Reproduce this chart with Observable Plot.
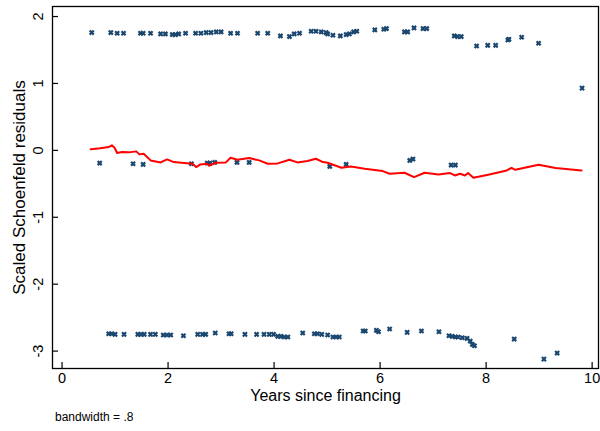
<!DOCTYPE html>
<html>
<head>
<meta charset="utf-8">
<script src="https://cdn.jsdelivr.net/npm/d3@7"></script>
<script src="https://cdn.jsdelivr.net/npm/@observablehq/plot@0.6"></script>
<style>
  html, body { margin: 0; padding: 0; background: #fff; }
  #chart { width: 600px; font-family: "Liberation Sans", Arial, Helvetica, sans-serif; }
  #caption { font-size: 12px; color: #000; margin: 2px 0 0 55px; line-height: 14px; }
</style>
</head>
<body>
<div id="chart"></div>
<script>
// Residual points: years since financing (x) and scaled Schoenfeld residual (y)
const topX = [0.56,0.92,1.04,1.16,1.48,1.53,1.67,1.86,1.95,2.08,2.14,2.2,2.33,2.52,2.62,2.72,2.81,2.91,3.0,3.18,3.31,3.69,3.88,4.12,4.29,4.38,4.48,4.70,4.79,4.89,4.98,5.01,5.11,5.25,5.36,5.42,5.50,5.56,5.90,6.07,6.12,6.46,6.52,6.64,6.81,6.88,7.40,7.46,7.53,7.82,8.03,8.18,8.41,8.43,8.67,8.99,9.81];
const topY = [1.76,1.76,1.75,1.75,1.75,1.75,1.75,1.74,1.74,1.73,1.73,1.74,1.75,1.75,1.75,1.76,1.76,1.77,1.77,1.75,1.75,1.75,1.75,1.71,1.70,1.74,1.75,1.78,1.78,1.77,1.76,1.74,1.72,1.71,1.73,1.74,1.77,1.78,1.80,1.81,1.82,1.77,1.77,1.83,1.82,1.82,1.71,1.70,1.70,1.56,1.57,1.57,1.65,1.66,1.69,1.60,0.93];
const midX = [0.71,1.34,1.53,2.44,2.74,2.79,2.88,3.30,3.53,5.05,5.36,6.56,6.62,7.34,7.42];
const midY = [-0.19,-0.20,-0.21,-0.20,-0.19,-0.19,-0.18,-0.18,-0.18,-0.24,-0.21,-0.15,-0.13,-0.22,-0.22];
const botX = [0.88,0.94,1.0,1.17,1.43,1.49,1.55,1.67,1.76,1.91,1.98,2.05,2.29,2.56,2.65,2.71,2.89,3.15,3.19,3.45,3.67,3.81,3.91,3.99,4.07,4.13,4.19,4.26,4.54,4.76,4.82,4.90,5.01,5.11,5.17,5.23,5.68,5.72,5.93,5.97,6.18,6.51,6.78,7.11,7.30,7.36,7.42,7.47,7.55,7.64,7.70,7.74,7.78,8.53,9.09,9.34];
const botY = [-2.74,-2.74,-2.75,-2.75,-2.75,-2.75,-2.75,-2.75,-2.75,-2.76,-2.76,-2.76,-2.77,-2.75,-2.75,-2.75,-2.73,-2.74,-2.74,-2.75,-2.75,-2.75,-2.75,-2.75,-2.78,-2.78,-2.79,-2.79,-2.73,-2.74,-2.74,-2.75,-2.76,-2.79,-2.79,-2.79,-2.70,-2.70,-2.69,-2.71,-2.67,-2.72,-2.70,-2.71,-2.77,-2.78,-2.79,-2.79,-2.80,-2.81,-2.85,-2.90,-2.92,-2.82,-3.12,-3.03];

// Lowess smooth (bandwidth .8)
const smoothX = [0.54,0.72,0.88,0.94,0.99,1.04,1.13,1.26,1.40,1.46,1.54,1.67,1.86,1.98,2.11,2.30,2.46,2.53,2.61,2.74,2.77,2.90,3.09,3.18,3.31,3.53,3.72,3.88,4.07,4.29,4.44,4.63,4.79,4.92,5.01,5.27,5.45,5.71,6.05,6.18,6.46,6.64,6.84,7.10,7.32,7.41,7.51,7.60,7.66,7.76,8.04,8.39,8.48,8.55,8.99,9.31,9.80];
const smoothY = [0.015,0.03,0.05,0.075,0.04,-0.04,-0.025,-0.03,-0.015,-0.06,-0.05,-0.15,-0.18,-0.135,-0.175,-0.19,-0.20,-0.25,-0.21,-0.20,-0.23,-0.185,-0.18,-0.11,-0.14,-0.115,-0.15,-0.20,-0.195,-0.14,-0.18,-0.16,-0.125,-0.175,-0.185,-0.26,-0.24,-0.275,-0.31,-0.35,-0.335,-0.40,-0.335,-0.36,-0.34,-0.375,-0.35,-0.375,-0.34,-0.41,-0.365,-0.30,-0.26,-0.29,-0.215,-0.265,-0.30];

const xTicks = [0, 2, 4, 6, 8, 10];
const yTicks = [-3, -2, -1, 0, 1, 2];

const xTitle = "Years since financing";
const yTitle = "Scaled Schoenfeld residuals";
const note = "bandwidth = .8";

const pts = [];
[[topX, topY], [midX, midY], [botX, botY]].forEach(([xs, ys]) => xs.forEach((x, i) => pts.push({x, y: ys[i]})));
const smooth = smoothX.map((x, i) => ({x, y: smoothY[i]}));

const plot = Plot.plot({
  width: 600,
  height: 408,
  marginLeft: 52,
  marginRight: 2,
  marginTop: 6,
  marginBottom: 40,
  style: {fontFamily: '"Liberation Sans", Arial, Helvetica, sans-serif', fontSize: "14px", color: "#000", background: "#fff"},
  x: {domain: [-0.18, 10.12]},
  y: {domain: [-3.26, 2.15]},
  marks: [
    Plot.frame({stroke: "#000", strokeWidth: 1.3}),
    // inward tick marks
    Plot.axisX({ticks: xTicks, tickSize: -6, tickFormat: () => "", label: null, stroke: "#000", strokeWidth: 1.2}),
    Plot.axisY({ticks: yTicks, tickSize: -6, tickFormat: () => "", label: null, stroke: "#000", strokeWidth: 1.2}),
    // tick labels
    Plot.text(xTicks, {x: d => d, text: d => String(d), frameAnchor: "bottom", textAnchor: "middle", dy: 14.5, fontSize: 14.5, fill: "#000"}),
    Plot.text(yTicks, {y: d => d, text: d => String(d), frameAnchor: "left", textAnchor: "middle", dx: -14.5, rotate: -90, fontSize: 14.5, fill: "#000"}),
    Plot.text([yTitle], {frameAnchor: "left", textAnchor: "middle", dx: -33, rotate: -90, fontSize: 17, fill: "#000"}),
    Plot.text([xTitle], {frameAnchor: "bottom", textAnchor: "middle", dy: 32, fontSize: 16, fill: "#000"}),
    Plot.dot(pts, {x: "x", y: "y", symbol: "times", r: 2, stroke: "#1a476f", strokeWidth: 2.2}),
    Plot.line(smooth, {x: "x", y: "y", stroke: "#ff0000", strokeWidth: 2})
  ]
});
document.getElementById("chart").appendChild(plot);
const cap = document.createElement("div");
cap.id = "caption";
cap.textContent = note;
document.getElementById("chart").appendChild(cap);
</script>
</body>
</html>
